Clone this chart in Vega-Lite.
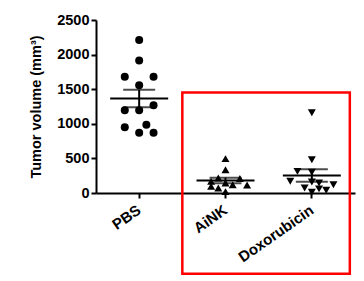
{
  "$schema": "https://vega.github.io/schema/vega-lite/v6.json",
  "autosize": "none",
  "width": 259,
  "height": 173,
  "padding": {"left": 96, "top": 20, "right": 9, "bottom": 88},
  "background": "white",
  "config": {
    "view": {"stroke": null},
    "font": "Liberation Sans",
    "axis": {
      "domainColor": "black", "domainWidth": 2, "tickColor": "black", "tickWidth": 2,
      "tickSize": 5, "grid": false, "labelColor": "black", "labelFont": "Liberation Sans",
      "labelFontWeight": "bold", "labelFontSize": 14.5, "titleFont": "Liberation Sans",
      "titleFontWeight": "bold", "titleFontSize": 14.5, "titleColor": "black"
    },
    "axisX": {"labelFontSize": 15}
  },
  "datasets": {
    "pts": [
      {"g": "PBS", "v": 2210, "j": 0}, {"g": "PBS", "v": 1916, "j": 0},
      {"g": "PBS", "v": 1680, "j": -2}, {"g": "PBS", "v": 1680, "j": 2},
      {"g": "PBS", "v": 1558, "j": 0}, {"g": "PBS", "v": 1268, "j": 2},
      {"g": "PBS", "v": 1196, "j": -2}, {"g": "PBS", "v": 1196, "j": 0},
      {"g": "PBS", "v": 985, "j": 1}, {"g": "PBS", "v": 950, "j": -2},
      {"g": "PBS", "v": 869, "j": 0}, {"g": "PBS", "v": 869, "j": 2},
      {"g": "AiNK", "v": 497, "j": 0}, {"g": "AiNK", "v": 337, "j": 0},
      {"g": "AiNK", "v": 217, "j": -1}, {"g": "AiNK", "v": 210, "j": 2},
      {"g": "AiNK", "v": 168, "j": -2}, {"g": "AiNK", "v": 145, "j": 0},
      {"g": "AiNK", "v": 120, "j": 1}, {"g": "AiNK", "v": 115, "j": 3},
      {"g": "AiNK", "v": 96, "j": -2}, {"g": "AiNK", "v": 72, "j": -1},
      {"g": "AiNK", "v": 20, "j": 0},
      {"g": "Doxorubicin", "v": 1160, "j": 0}, {"g": "Doxorubicin", "v": 480, "j": 0},
      {"g": "Doxorubicin", "v": 313, "j": -2}, {"g": "Doxorubicin", "v": 300, "j": 0},
      {"g": "Doxorubicin", "v": 170, "j": -3}, {"g": "Doxorubicin", "v": 160, "j": 0},
      {"g": "Doxorubicin", "v": 145, "j": 1}, {"g": "Doxorubicin", "v": 120, "j": 3},
      {"g": "Doxorubicin", "v": 72, "j": -1}, {"g": "Doxorubicin", "v": 60, "j": 1},
      {"g": "Doxorubicin", "v": 40, "j": 2}, {"g": "Doxorubicin", "v": 10, "j": 0}
    ],
    "box": [{"x": 1, "x2": 2.94, "y": 1452, "y2": -1166}]
  },
  "layer": [
    {
      "data": {"name": "pts"},
      "layer": [
        {
          "mark": {"type": "point", "filled": true, "size": 64, "color": "black", "opacity": 1},
          "encoding": {
            "x": {"field": "g", "type": "nominal", "sort": ["PBS", "AiNK", "Doxorubicin"],
              "scale": {"paddingInner": 0, "paddingOuter": 0},
              "axis": {"title": null, "labelAngle": -35, "labelAlign": "right", "labelBaseline": "middle", "labelPadding": 10}},
            "xOffset": {"field": "j", "type": "quantitative", "scale": {"domain": [-6, 6], "range": [0, 86.33]}},
            "y": {"field": "v", "type": "quantitative", "title": "Tumor volume (mm³)",
              "scale": {"domain": [0, 2500], "nice": false},
              "axis": {"values": [0, 500, 1000, 1500, 2000, 2500], "format": "d", "titlePadding": 13, "labelPadding": 2}},
            "shape": {"field": "g", "type": "nominal",
              "scale": {"domain": ["PBS", "AiNK", "Doxorubicin"], "range": ["circle", "triangle-up", "triangle-down"]},
              "legend": null}
          }
        },
        {
          "mark": {"type": "errorbar", "extent": "stderr", "color": "black", "thickness": 2,
            "ticks": {"size": 32, "thickness": 2, "color": "black"}},
          "encoding": {
            "x": {"field": "g", "type": "nominal", "sort": ["PBS", "AiNK", "Doxorubicin"], "title": null},
            "y": {"field": "v", "type": "quantitative", "title": "Tumor volume (mm³)",
              "axis": {"values": [0, 500, 1000, 1500, 2000, 2500], "format": "d", "titlePadding": 13, "labelPadding": 2}}
          }
        },
        {
          "mark": {"type": "tick", "color": "black", "size": 58, "thickness": 2, "opacity": 1},
          "encoding": {
            "x": {"field": "g", "type": "nominal", "sort": ["PBS", "AiNK", "Doxorubicin"], "title": null},
            "y": {"aggregate": "mean", "field": "v", "type": "quantitative", "title": "Tumor volume (mm³)",
              "axis": {"values": [0, 500, 1000, 1500, 2000, 2500], "format": "d", "titlePadding": 13, "labelPadding": 2}}
          }
        }
      ]
    },
    {
      "data": {"name": "box"},
      "mark": {"type": "rect", "fill": null, "stroke": "#ff0000", "strokeWidth": 2.5, "clip": false},
      "encoding": {
        "x": {"field": "x", "type": "quantitative", "scale": {"domain": [0, 3], "nice": false, "zero": false}, "axis": null},
        "x2": {"field": "x2"},
        "y": {"field": "y", "type": "quantitative", "title": "Tumor volume (mm³)",
          "axis": {"values": [0, 500, 1000, 1500, 2000, 2500], "format": "d", "titlePadding": 13, "labelPadding": 2}},
        "y2": {"field": "y2"}
      }
    }
  ],
  "resolve": {"scale": {"x": "independent"}}
}
